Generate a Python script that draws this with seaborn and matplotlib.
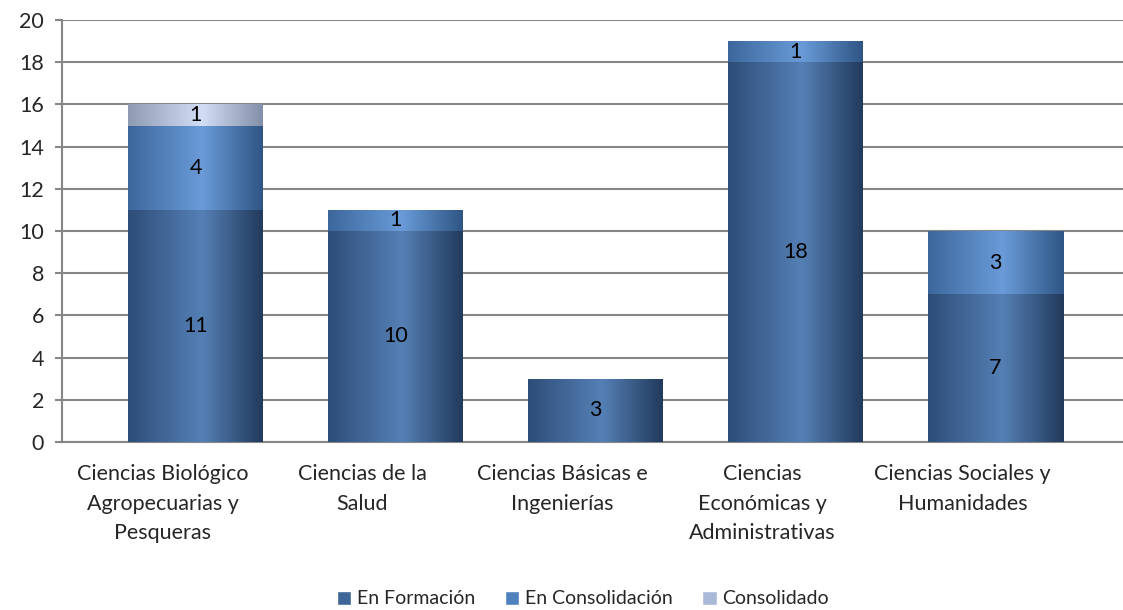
import numpy as np
import pandas as pd
import matplotlib
matplotlib.use("Agg")
import matplotlib.pyplot as plt
import matplotlib.transforms as mtransforms
from matplotlib.colors import LinearSegmentedColormap
from matplotlib.patches import Patch
import seaborn as sns

# data
categorias = ["Ciencias Biológico\nAgropecuarias y\nPesqueras",
              "Ciencias de la\nSalud",
              "Ciencias Básicas e\nIngenierías",
              "Ciencias\nEconómicas y\nAdministrativas",
              "Ciencias Sociales y\nHumanidades"]
en_formacion = [11, 10, 3, 18, 7]
en_consolidacion = [4, 1, 0, 1, 3]
consolidado = [1, 0, 0, 0, 0]
series = ["En Formación", "En Consolidación", "Consolidado"]

# colours: legend colour + (left edge, centre, right edge) for the cylinder look
legend_cols = ["#3E6699", "#4F81BD", "#AAB9D8"]
grad_cols = [("#2E4D78", "#5580B5", "#223A5C"),
             ("#3C679C", "#6A9BD8", "#2E5584"),
             ("#8E9BB3", "#D2DEF5", "#838FA8")]

sns.set_theme(style="white")
plt.rcParams['font.family'] = ['Lato', 'DejaVu Sans']

fig = plt.figure(figsize=(11.23, 6.10), dpi=100)
ax = fig.add_axes([62 / 1123, 1 - 442 / 610, 1 - 62 / 1123, (442 - 20) / 610])

# cumulative totals, drawn from the top layer down
capas = [np.array(en_formacion),
         np.array(en_formacion) + np.array(en_consolidacion),
         np.array(en_formacion) + np.array(en_consolidacion) + np.array(consolidado)]
df = pd.DataFrame({"cat": categorias})

patches_por_capa = []
for i in [2, 1, 0]:
    n_before = len(ax.patches)
    sns.barplot(x=df["cat"], y=capas[i], width=0.675, color=legend_cols[i],
                ax=ax, zorder=3 + (2 - i), linewidth=0)
    patches_por_capa.append((i, ax.patches[n_before:]))

grad = np.linspace(0, 1, 256).reshape(1, -1)
for i, patches in patches_por_capa:
    c = grad_cols[i]
    cmap = LinearSegmentedColormap.from_list("g%d" % i, [(0, c[0]), (0.55, c[1]), (1, c[2])])
    for p in patches:
        h = p.get_height()
        if h <= 0:
            continue
        x0, w = p.get_x(), p.get_width()
        im = ax.imshow(grad, cmap=cmap, extent=[x0, x0 + w, 0, h], aspect="auto",
                       zorder=p.get_zorder() + 0.5, interpolation="bicubic")
        im.set_clip_path(p)
        p.set_facecolor("none")

# value labels centred in each segment
for j in range(len(categorias)):
    base = 0
    for vals in [en_formacion, en_consolidacion, consolidado]:
        v = vals[j]
        if v > 0:
            ax.text(j, base + v / 2, str(v), ha="center", va="center",
                    fontsize=15.5, color="black", zorder=20)
        base += v

ax.set_xlim((62 - 195.5) / 200, (1123 - 195.5) / 200)
ax.set_ylim(0, 20)
ax.set_yticks(range(0, 21, 2))
ax.yaxis.grid(True, color="#868686", linewidth=1.5, zorder=0)
ax.set_axisbelow(True)
for s in ["top", "right"]:
    ax.spines[s].set_visible(False)
for s in ["left", "bottom"]:
    ax.spines[s].set_color("#868686")
    ax.spines[s].set_linewidth(1.5)
ax.tick_params(axis="y", left=True, length=5, width=1.5, color="#868686",
               labelsize=15.5, pad=8)
ax.tick_params(axis="x", bottom=False, labelsize=15.5, pad=10)
ax.set_xlabel("")
ax.set_ylabel("")
# category labels sit a little left of the bars (3-D depth offset in the original)
shift = mtransforms.ScaledTranslation(-33 / 100, 0, fig.dpi_scale_trans)
for t in ax.get_xticklabels():
    t.set_linespacing(1.6)
    t.set_transform(t.get_transform() + shift)

handles = [Patch(facecolor=legend_cols[k], label=series[k]) for k in range(3)]
fig.legend(handles=handles, loc="center", bbox_to_anchor=(583 / 1123, 1 - 599 / 610),
           ncol=3, frameon=False, fontsize=14, handlelength=0.75, handleheight=0.75,
           handletextpad=0.3, columnspacing=1.5)

fig.savefig("out.png", dpi=100)
